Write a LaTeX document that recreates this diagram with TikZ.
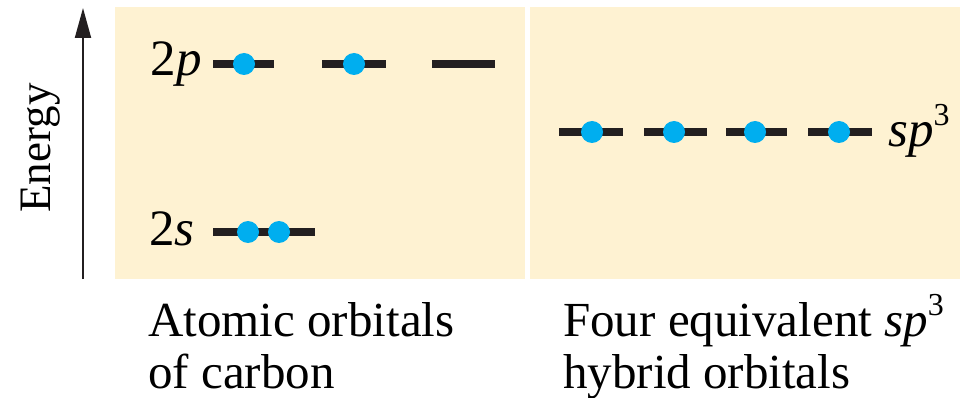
\documentclass[tikz,border=0pt]{standalone}
\usepackage{fontspec}
\setmainfont{Liberation Serif}
\usetikzlibrary{arrows.meta}
\definecolor{panel}{RGB}{254,242,210}
\definecolor{elec}{RGB}{0,174,239}
\definecolor{lvl}{RGB}{35,31,32}
\newcommand{\supthree}{\raisebox{0.42em}{\fontsize{32}{32}\selectfont 3}}
\tikzset{
  panelbox/.style={fill=panel, draw=none},
  level/.style={draw=lvl, line width=8pt},
  electron/.style={circle, fill=elec, minimum size=22pt, inner sep=0pt},
  lbl/.style={inner sep=0pt, font=\fontsize{51}{55}\selectfont},
  caption/.style={inner sep=0pt, anchor=base west, font=\fontsize{49}{52}\selectfont},
}
\begin{document}
\begin{tikzpicture}[x=1pt, y=-1pt]
\useasboundingbox (0,0) rectangle (961,398);
% panels
\path[panelbox] (115,7) rectangle (525,279);
\path[panelbox] (530,7) rectangle (960,279);
% energy axis
\coordinate (ebot) at (83,279);
\coordinate (etop) at (83,8);
\draw[line width=2pt, draw=lvl, -{Triangle[length=30pt,width=16pt]}] (ebot) -- (etop);
\node[lbl, rotate=90, anchor=base, font=\fontsize{45}{50}\selectfont] (energy) at (50,148) {Energy};
% 2p levels
\node[lbl, anchor=base east] (l2p) at (202,76) {2\textit{p}};
\coordinate (p1a) at (213,64); \coordinate (p1b) at (274,64);
\coordinate (p2a) at (322,64); \coordinate (p2b) at (386,64);
\coordinate (p3a) at (432,64); \coordinate (p3b) at (495,64);
\draw[level] (p1a) -- (p1b);
\draw[level] (p2a) -- (p2b);
\draw[level] (p3a) -- (p3b);
\node[electron] (e1) at (244,64) {};
\node[electron] (e2) at (354,64) {};
% 2s level
\node[lbl, anchor=base east] (l2s) at (195,245) {2\textit{s}};
\coordinate (sa) at (213,232); \coordinate (sb) at (315,232);
\draw[level] (sa) -- (sb);
\node[electron] (e3) at (248,232) {};
\node[electron] (e4) at (279,232) {};
% sp3 levels
\coordinate (h1a) at (559,132); \coordinate (h1b) at (623,132);
\coordinate (h2a) at (644,132); \coordinate (h2b) at (707,132);
\coordinate (h3a) at (726,132); \coordinate (h3b) at (787,132);
\coordinate (h4a) at (808,132); \coordinate (h4b) at (872,132);
\draw[level] (h1a) -- (h1b);
\draw[level] (h2a) -- (h2b);
\draw[level] (h3a) -- (h3b);
\draw[level] (h4a) -- (h4b);
\node[electron] (e5) at (592,132) {};
\node[electron] (e6) at (674,132) {};
\node[electron] (e7) at (755,132) {};
\node[electron] (e8) at (839,132) {};
\node[lbl, anchor=base west] (lsp3) at (888,147) {\textit{sp}\supthree};
% captions
\node[caption] (c1) at (148,336) {Atomic orbitals};
\node[caption] (c2) at (148,388) {of carbon};
\node[caption] (c3) at (563,336) {Four equivalent \textit{sp}\supthree};
\node[caption] (c4) at (563,388) {hybrid orbitals};
\end{tikzpicture}
\end{document}
